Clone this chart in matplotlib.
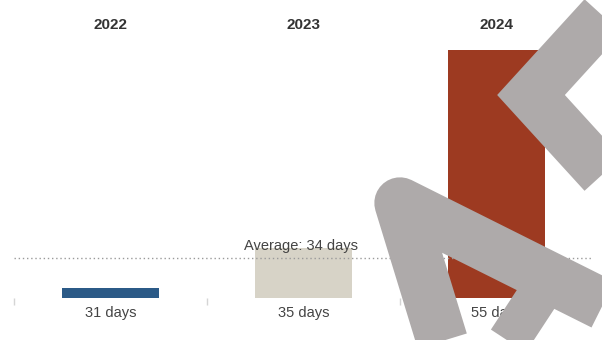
import matplotlib.pyplot as plt
import matplotlib.transforms as mtransforms
from matplotlib.lines import Line2D
import numpy as np

years = ['2022', '2023', '2024']
days = [31, 35, 55]
bar_colors = ['#2b5a87', '#d7d3c7', '#9d3a21']
average_days = 34

W, H = 602, 340

plt.rcParams['font.family'] = ['Liberation Sans', 'DejaVu Sans']


def px_transform(fig):
    # pixel coordinates measured from the top-left corner of the figure
    return mtransforms.Affine2D().scale(1.0 / W, -1.0 / H).translate(0, 1) + fig.transFigure


def draw_pointer(fig):
    ''' Big grey pointer strokes laid over the right half of the chart '''
    tr = px_transform(fig)
    grey = '#aeaaaa'
    # chevron in the top right corner
    fig.add_artist(Line2D([645, 531, 645], [-30, 95, 220], transform=tr, color=grey,
                          lw=36, solid_joinstyle='miter', solid_capstyle='butt', zorder=10))
    # arrow outline: tip, left edge and diagonal edge
    fig.add_artist(Line2D([650, 400, 445], [328, 203, 350], transform=tr, color=grey,
                          lw=37, solid_joinstyle='round', solid_capstyle='butt', zorder=10))
    # lower edge running back towards the notch
    fig.add_artist(Line2D([547, 488], [282, 372], transform=tr, color=grey,
                          lw=30, solid_capstyle='butt', zorder=10))


fig = plt.figure(figsize=(W / 100, H / 100), dpi=100)
ax = fig.add_axes([14 / W, 42 / H, 579 / W, 248 / H])

x = np.arange(len(years))
ax.bar(x, days, width=0.5, color=bar_colors, zorder=2)
ax.set_xlim(-0.5, 2.5)
ax.set_ylim(30.0, 55.0)

# dotted average line across the whole plot
ax.axhline(average_days, color='#9a9a9a', linestyle=(0, (1, 2)), linewidth=1, zorder=3)
ax.annotate('Average: {0} days'.format(average_days), xy=(1, average_days),
            xytext=(-2, 4), textcoords='offset points', ha='center', va='bottom',
            fontsize=10.5, color='#444444')

for s in ax.spines.values():
    s.set_visible(False)
ax.set_yticks([])
ax.set_xticks([-0.5, 0.5, 1.5, 2.5])
ax.set_xticklabels([])
ax.tick_params(axis='x', length=5, width=1, color='#d5d5d5')

# year titles on top, value labels under the bars
top = mtransforms.blended_transform_factory(ax.transData, fig.transFigure)
for i, yr in enumerate(years):
    ax.text(x[i], 1 - 25 / H, yr, transform=top, ha='center', va='center',
            fontsize=11, fontweight='bold', color='#333333')
    ax.text(x[i], 1 - 313 / H, '{0} days'.format(days[i]), transform=top,
            ha='center', va='center', fontsize=10.5, color='#444444')

draw_pointer(fig)

fig.savefig('out.png', dpi=100)
